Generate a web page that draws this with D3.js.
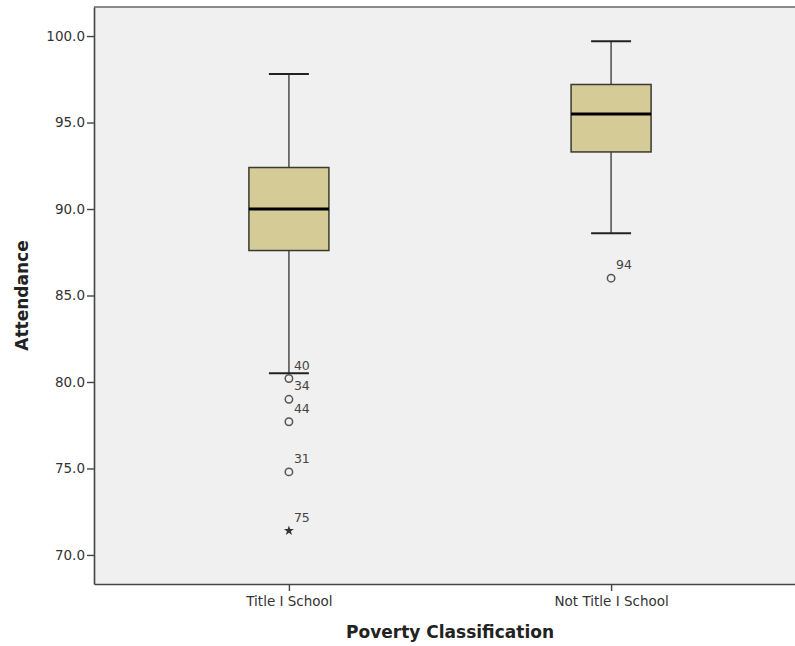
<!DOCTYPE html>
<html>
<head>
<meta charset="utf-8">
<script src="https://cdn.jsdelivr.net/npm/d3@7"></script>
<style>
  body { margin: 0; background: #fff; }
  text { font-family: "DejaVu Sans", sans-serif; }
</style>
</head>
<body>
<div id="chart"></div>
<script>
// categories and five-number summaries
var categories = ["Title I School", "Not Title I School"];
var whiskerLow = [80.5, 88.6];
var q1 = [87.6, 93.3];
var medians = [90.0, 95.5];
var q3 = [92.4, 97.2];
var whiskerHigh = [97.8, 99.7];

// outliers: category index, value, case label, kind
var outCat = [0, 0, 0, 0, 0, 1];
var outVal = [80.2, 79.0, 77.7, 74.8, 71.4, 86.0];
var outLabel = ["40", "34", "44", "31", "75", "94"];
var outKind = ["circle", "circle", "circle", "circle", "star", "circle"];

var yTicks = [70, 75, 80, 85, 90, 95, 100];

var width = 795, height = 646;
var margin = {top: 7, left: 94, bottom: 62, right: -11};

var svg = d3.select("#chart").append("svg")
    .attr("width", width).attr("height", height);

var x = d3.scalePoint().domain(categories)
    .range([margin.left, width - margin.right]).padding(0.605);
var y = d3.scaleLinear().domain([68.32, 101.68])
    .range([height - margin.bottom, margin.top]);

var plotBottom = y(68.32), plotTop = y(101.68);

// plot background
svg.append("rect")
    .attr("x", margin.left).attr("y", plotTop)
    .attr("width", width - margin.right - margin.left)
    .attr("height", plotBottom - plotTop)
    .attr("fill", "#f0f0f0");

svg.append("line")
    .attr("x1", margin.left).attr("x2", width)
    .attr("y1", plotTop).attr("y2", plotTop)
    .attr("stroke", "#8a8a8a").attr("stroke-width", 2);

// axes
var yAxis = svg.append("g")
    .attr("transform", "translate(" + margin.left + ",0)")
    .call(d3.axisLeft(y).tickValues(yTicks).tickFormat(d3.format(".1f")).tickSize(7).tickSizeOuter(0));
var xAxis = svg.append("g")
    .attr("transform", "translate(0," + plotBottom + ")")
    .call(d3.axisBottom(x).tickSize(7).tickSizeOuter(0));

[yAxis, xAxis].forEach(function(a){
    a.select(".domain").attr("stroke", "#444").attr("stroke-width", 1.6);
    a.selectAll(".tick line").attr("stroke", "#444").attr("stroke-width", 1.4);
    a.selectAll(".tick text").attr("fill", "#333").style("font-size", "13.5px")
        .style("font-family", "'DejaVu Sans', sans-serif");
});
yAxis.selectAll(".tick text").attr("x", -9);
xAxis.selectAll(".tick text").attr("y", 12);

// axis titles
svg.append("text")
    .attr("transform", "translate(28," + ((plotTop + plotBottom) / 2) + ") rotate(-90)")
    .attr("text-anchor", "middle")
    .style("font-size", "17px").style("font-weight", "bold").attr("fill", "#222")
    .text("Attendance");
svg.append("text")
    .attr("x", 450).attr("y", 638)
    .attr("text-anchor", "middle")
    .style("font-size", "17px").style("font-weight", "bold").attr("fill", "#222")
    .text("Poverty Classification");

var boxW = 80, capW = 40;
var boxes = svg.append("g");

categories.forEach(function(c, i){
    var cx = x(c);
    var g = boxes.append("g");
    // whiskers
    g.append("line").attr("x1", cx).attr("x2", cx)
        .attr("y1", y(whiskerHigh[i])).attr("y2", y(q3[i]))
        .attr("stroke", "#555").attr("stroke-width", 1.6);
    g.append("line").attr("x1", cx).attr("x2", cx)
        .attr("y1", y(q1[i])).attr("y2", y(whiskerLow[i]))
        .attr("stroke", "#555").attr("stroke-width", 1.6);
    [whiskerHigh[i], whiskerLow[i]].forEach(function(v){
        g.append("line").attr("x1", cx - capW / 2).attr("x2", cx + capW / 2)
            .attr("y1", y(v)).attr("y2", y(v))
            .attr("stroke", "#222").attr("stroke-width", 2);
    });
    // box
    g.append("rect")
        .attr("x", cx - boxW / 2).attr("y", y(q3[i]))
        .attr("width", boxW).attr("height", y(q1[i]) - y(q3[i]))
        .attr("fill", "#d4cb96").attr("stroke", "#3a3a30").attr("stroke-width", 1.5);
    g.append("line").attr("x1", cx - boxW / 2).attr("x2", cx + boxW / 2)
        .attr("y1", y(medians[i])).attr("y2", y(medians[i]))
        .attr("stroke", "#000").attr("stroke-width", 3);
});

// outliers
var outG = svg.append("g");
outVal.forEach(function(v, i){
    var cx = x(categories[outCat[i]]), cy = y(v);
    if (outKind[i] === "star") {
        outG.append("path")
            .attr("d", d3.symbol().type(d3.symbolStar).size(32)())
            .attr("transform", "translate(" + cx + "," + cy + ")")
            .attr("fill", "#333");
    } else {
        outG.append("circle").attr("cx", cx).attr("cy", cy).attr("r", 3.7)
            .attr("fill", "none").attr("stroke", "#555").attr("stroke-width", 1.5);
    }
    outG.append("text")
        .attr("x", cx + 5).attr("y", cy - 9)
        .style("font-size", "12.5px").attr("fill", "#444")
        .text(outLabel[i]);
});
</script>
</body>
</html>
